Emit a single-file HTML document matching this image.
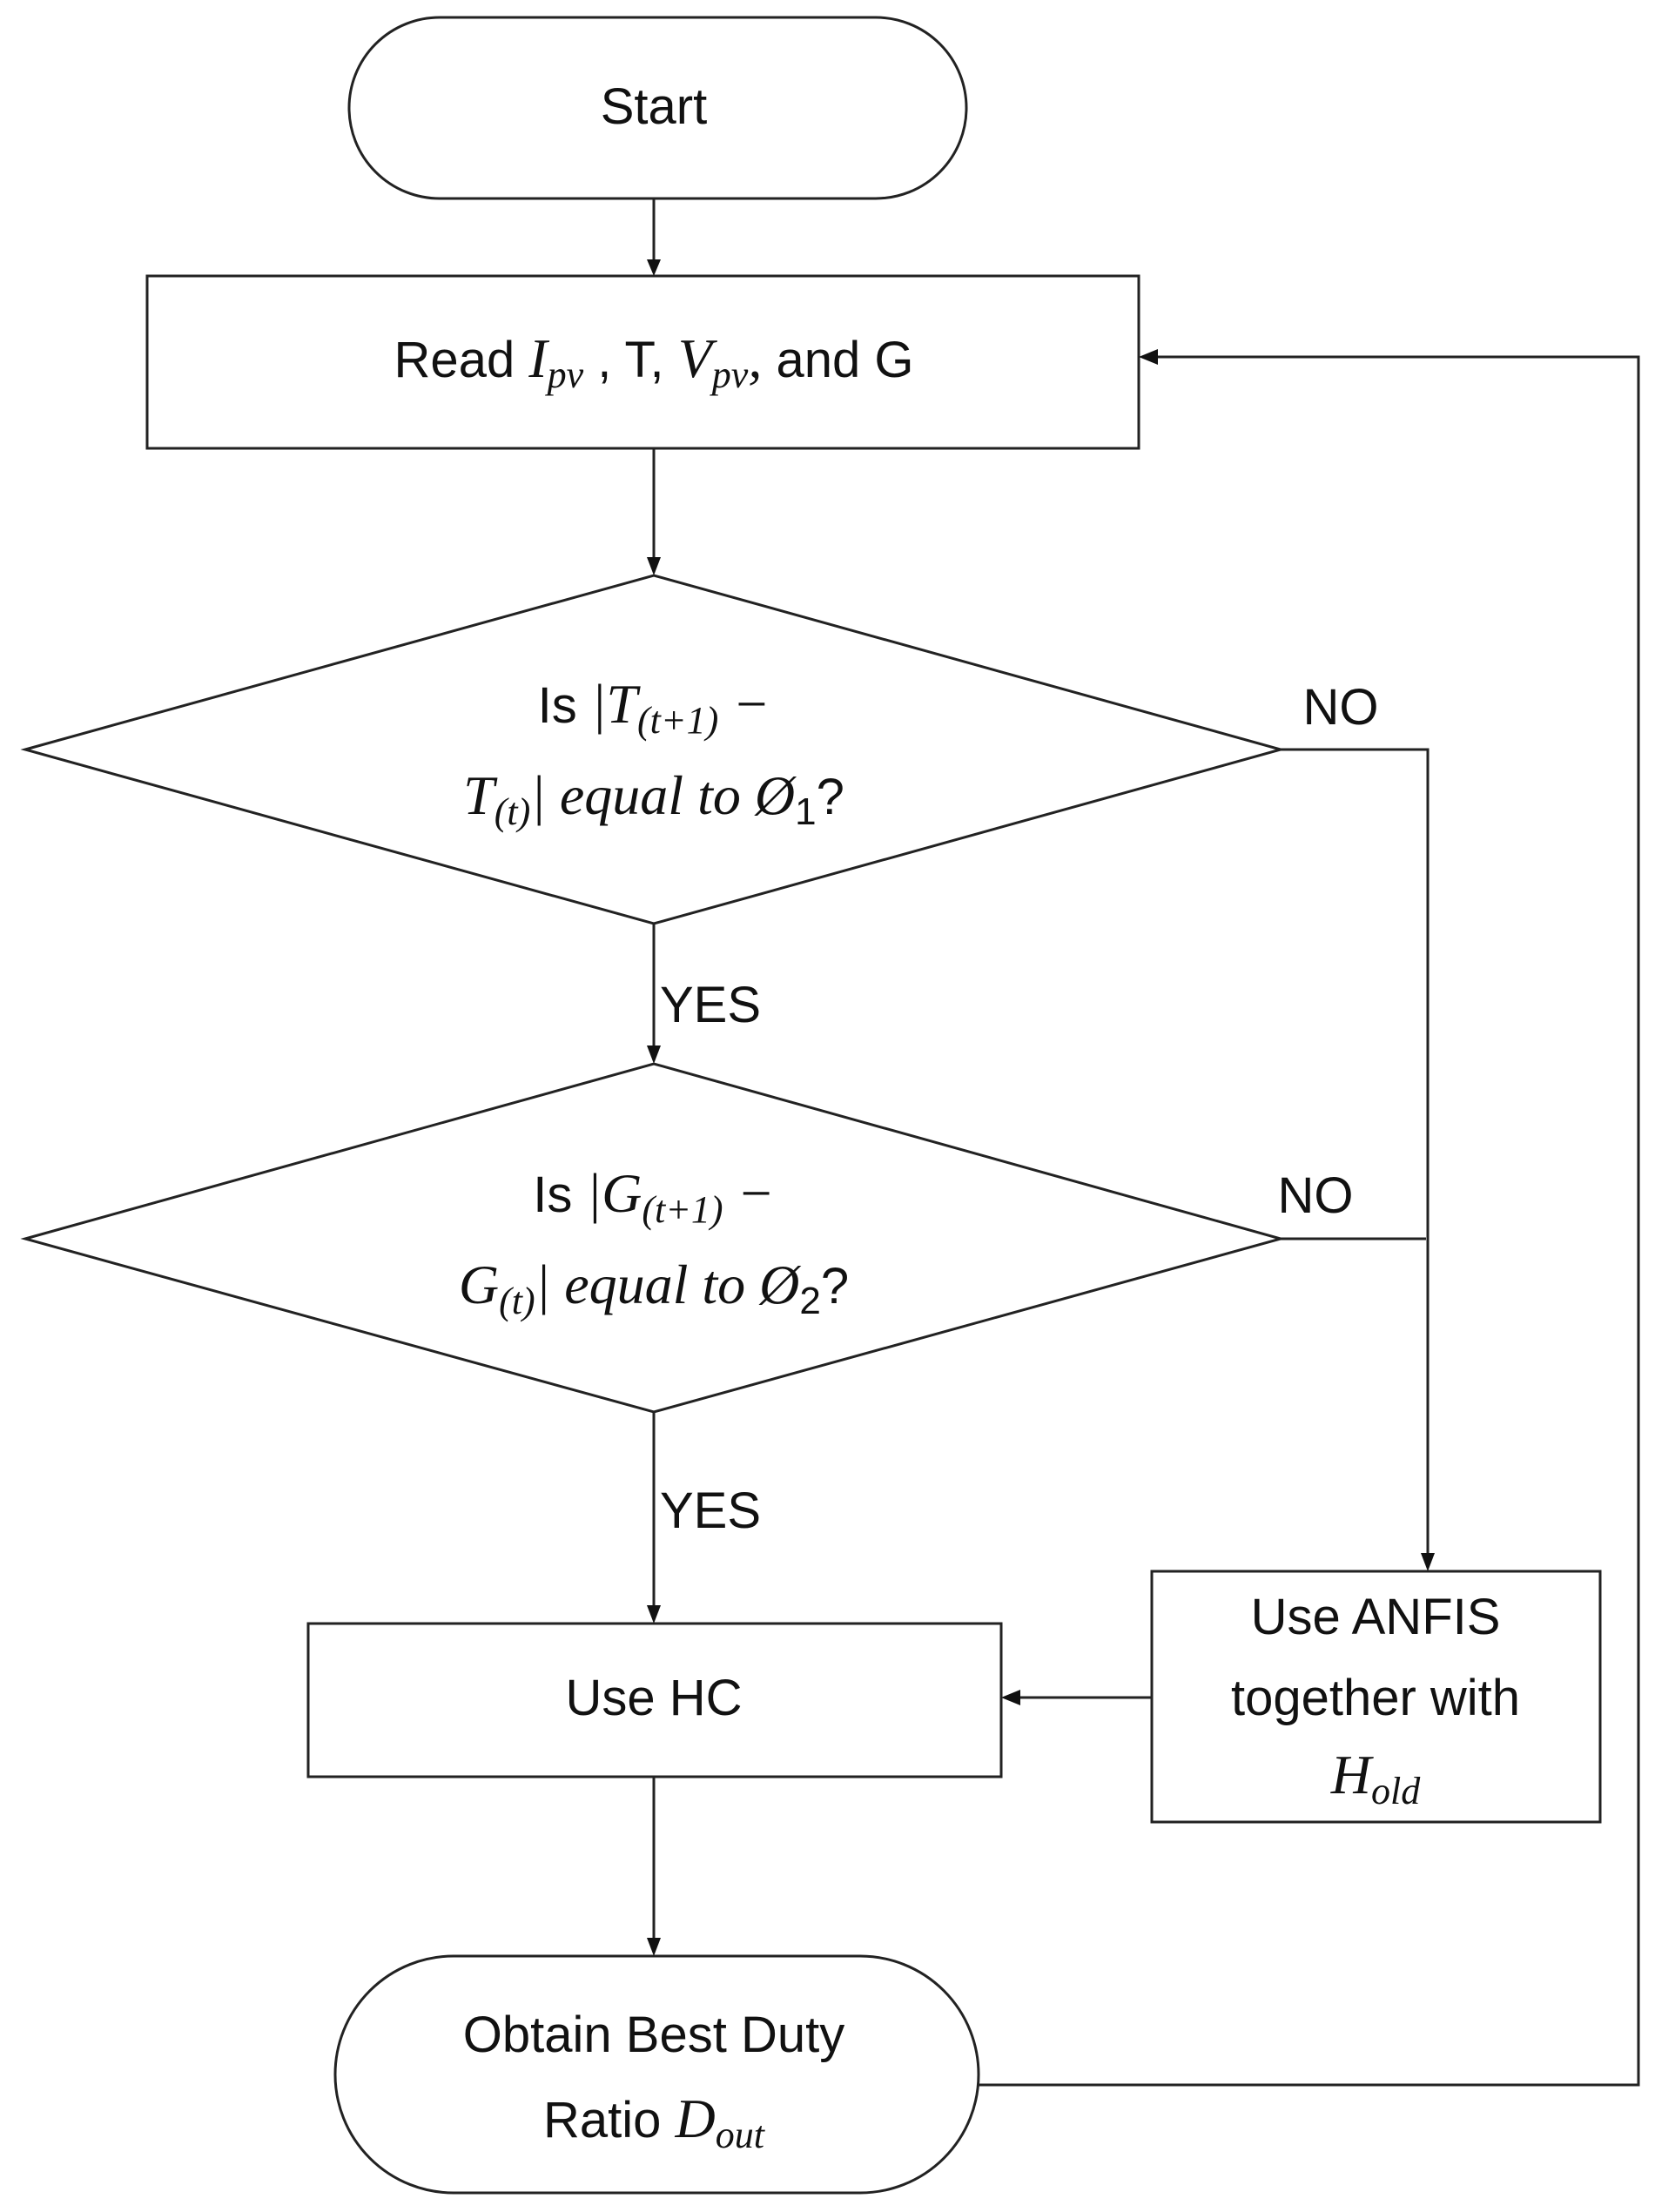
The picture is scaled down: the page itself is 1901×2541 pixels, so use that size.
<!DOCTYPE html>
<html><head><meta charset="utf-8"><style>
html,body{margin:0;padding:0;background:#fff}
svg{display:block}
text{font-family:"Liberation Sans",sans-serif;font-size:58px;fill:#111}
.m{font-family:"Liberation Serif",serif;font-style:italic;font-size:64px}
.s{font-size:44px}
</style></head><body>
<svg width="1901" height="2541" viewBox="0 0 1901 2541" xmlns="http://www.w3.org/2000/svg">
<g fill="none" stroke="#222" stroke-width="3">
<rect x="401" y="20" width="709" height="208" rx="104"/>
<rect x="169" y="317" width="1139" height="198"/>
<polygon points="29,861 751,661 1471,861 751,1061"/>
<polygon points="29,1423 751,1222 1471,1423 751,1622"/>
<rect x="354" y="1865" width="796" height="176"/>
<rect x="1323" y="1805" width="515" height="288"/>
<rect x="385" y="2247" width="739" height="272" rx="136"/>
<path d="M751 228V300"/>
<path d="M751 515V642"/>
<path d="M751 1061V1203"/>
<path d="M751 1622V1846"/>
<path d="M751 2041V2228"/>
<path d="M1471 861H1640V1786"/>
<path d="M1471 1423H1638"/>
<path d="M1323 1950H1170"/>
<path d="M1124 2395H1882V410H1328"/>
</g>
<g fill="#111">
<polygon points="743,298 759,298 751,317"/>
<polygon points="743,640 759,640 751,661"/>
<polygon points="743,1201 759,1201 751,1222"/>
<polygon points="743,1844 759,1844 751,1865"/>
<polygon points="743,2226 759,2226 751,2247"/>
<polygon points="1632,1784 1648,1784 1640,1805"/>
<polygon points="1172,1941 1172,1959 1150,1950"/>
<polygon points="1330,401 1330,419 1308,410"/>
</g>
<text x="751" y="142" text-anchor="middle">Start</text>
<text x="751" y="433" text-anchor="middle">Read <tspan class="m">I</tspan><tspan class="m s" dy="12">pv</tspan><tspan dy="-12"> , T, </tspan><tspan class="m">V</tspan><tspan class="m s" dy="12">pv</tspan><tspan class="m" dy="-12">,</tspan> and G</text>
<text x="751" y="830" text-anchor="middle">Is <tspan class="m">|T</tspan><tspan class="m s" dy="12">(t+1)</tspan><tspan class="m" dy="-12"> −</tspan></text>
<text x="751" y="935" text-anchor="middle"><tspan class="m">T</tspan><tspan class="m s" dy="12">(t)</tspan><tspan class="m" dy="-12">| equal to Ø</tspan><tspan class="s" dy="12">1</tspan><tspan dy="-12">?</tspan></text>
<text x="1540" y="832" text-anchor="middle">NO</text>
<text x="816" y="1174" text-anchor="middle">YES</text>
<text x="751" y="1392" text-anchor="middle">Is <tspan class="m">|G</tspan><tspan class="m s" dy="12">(t+1)</tspan><tspan class="m" dy="-12"> −</tspan></text>
<text x="751" y="1497" text-anchor="middle"><tspan class="m">G</tspan><tspan class="m s" dy="12">(t)</tspan><tspan class="m" dy="-12">| equal to Ø</tspan><tspan class="s" dy="12">2</tspan><tspan dy="-12">?</tspan></text>
<text x="1511" y="1393" text-anchor="middle">NO</text>
<text x="816" y="1755" text-anchor="middle">YES</text>
<text x="751" y="1970" text-anchor="middle">Use HC</text>
<text x="1580" y="1877" text-anchor="middle">Use ANFIS</text>
<text x="1580" y="1970" text-anchor="middle">together with</text>
<text x="1580" y="2060" text-anchor="middle"><tspan class="m">H</tspan><tspan class="m s" dy="12">old</tspan></text>
<text x="751" y="2357" text-anchor="middle">Obtain Best Duty</text>
<text x="751" y="2455" text-anchor="middle">Ratio <tspan class="m">D</tspan><tspan class="m s" dy="12">out</tspan></text>
</svg>
</body></html>
